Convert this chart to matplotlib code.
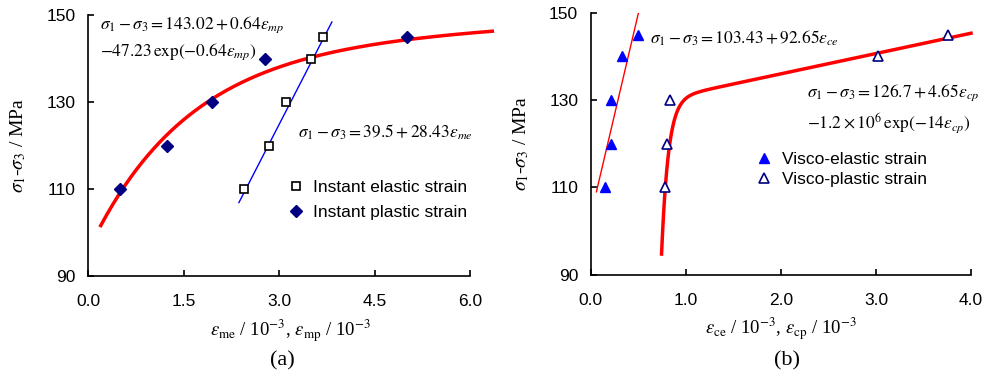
import numpy as np
import matplotlib
matplotlib.use('Agg')
import matplotlib.pyplot as plt

plt.rcParams['font.family'] = 'Liberation Sans'
plt.rcParams['mathtext.fontset'] = 'stix'

# (a) instant strains
me_x = [2.45, 2.84, 3.11, 3.51, 3.69]
me_y = [110, 120, 130, 140, 145]
mp_x = [0.50, 1.24, 1.94, 2.78, 5.01]
mp_y = [110, 120, 130, 140, 145]

# (b) creep strains
ce_x = [0.15, 0.21, 0.21, 0.33, 0.50]
ce_y = [110, 120, 130, 140, 145]
cp_x = [0.78, 0.80, 0.83, 3.02, 3.76]
cp_y = [110, 120, 130, 140, 145]

yticks = [90, 110, 130, 150]
xticks_a = [0.0, 1.5, 3.0, 4.5, 6.0]
xticks_b = [0.0, 1.0, 2.0, 3.0, 4.0]

serif = 'Liberation Serif'


def fit_me(e):
    return 39.5 + 28.43 * e


def fit_mp(e):
    return 143.02 + 0.64 * e - 47.23 * np.exp(-0.64 * e)


def fit_ce(e):
    return 103.43 + 92.65 * e


def fit_cp(e):
    return 126.7 + 4.65 * e - 1.2e6 * np.exp(-14 * e)


def style_axes(ax, xt, xmax_spine):
    ax.spines['top'].set_visible(False)
    ax.spines['right'].set_visible(False)
    ax.spines['bottom'].set_bounds(0, xmax_spine)
    ax.spines['left'].set_linewidth(1.2)
    ax.spines['bottom'].set_linewidth(1.2)
    ax.set_ylim(90, 150)
    ax.set_yticks(yticks)
    ax.set_xticks(xt)
    ax.set_xticklabels(['%.1f' % v for v in xt])
    ax.tick_params(direction='in', length=4, width=1.2, labelsize=12.5)
    ax.tick_params(axis='x', pad=13)
    ax.tick_params(axis='y', pad=9)
    ax.set_ylabel(r'$\sigma_1$-$\sigma_3$ / MPa', fontfamily=serif, fontsize=14, labelpad=13)


fig = plt.figure(figsize=(9.99, 3.77), dpi=100)

# ---- (a)
ax1 = fig.add_axes([0.0881, 0.2679, 0.4047, 0.6923])
style_axes(ax1, xticks_a, 6.0)
ax1.set_xlim(0, 6.35)

e = np.linspace(2.37, 3.83, 50)
ax1.plot(e, fit_me(e), color='blue', lw=1.0)
e = np.linspace(0.2, 6.35, 200)
ax1.plot(e, fit_mp(e), color='red', lw=2.5, clip_on=False)
ax1.plot(me_x, me_y, 's', ms=6, mfc='white', mec='black', mew=1.2, ls='none',
         label='Instant elastic strain')
ax1.plot(mp_x, mp_y, 'D', ms=6.5, color='#000080', ls='none',
         label='Instant plastic strain')

ax1.text(0.19, 147.7, r'$\sigma_1-\sigma_3=143.02+0.64\varepsilon_{mp}$', fontsize=12.5, va='center')
ax1.text(0.19, 141.5, r'$-47.23\,\mathrm{exp}(-0.64\varepsilon_{mp})$', fontsize=12.5, va='center')
ax1.text(3.30, 123.1, r'$\sigma_1-\sigma_3=39.5+28.43\varepsilon_{me}$', fontsize=12.5, va='center')

ax1.legend(loc='upper left', bbox_to_anchor=(0.492, 0.37), frameon=False, fontsize=12.5,
           handlelength=1, handletextpad=0.5, borderpad=0, borderaxespad=0,
           labelspacing=0.6)
ax1.set_xlabel(r'$\varepsilon_{\rm me}$ / 10$^{-3}$, $\varepsilon_{\rm mp}$ / 10$^{-3}$',
               fontfamily=serif, fontsize=13.5, labelpad=6)
fig.text(0.283, 0.042, '(a)', fontfamily=serif, fontsize=16, ha='center', va='center')

# ---- (b)
ax2 = fig.add_axes([0.5913, 0.2714, 0.3807, 0.6949])
style_axes(ax2, xticks_b, 4.0)
ax2.set_xlim(0, 4.0)

e = np.linspace(0.06, 0.51, 50)
ax2.plot(e, fit_ce(e), color='red', lw=1.0)
e = np.linspace(0.745, 4.0, 300)
ax2.plot(e, fit_cp(e), color='red', lw=2.5, clip_on=False)
ax2.plot(ce_x, ce_y, '^', ms=7.5, color='blue', ls='none', label='Visco-elastic strain')
ax2.plot(cp_x, cp_y, '^', ms=7.5, mfc='white', mec='#000080', mew=1.2, ls='none',
         label='Visco-plastic strain')

ax2.text(0.62, 144.2, r'$\sigma_1-\sigma_3=103.43+92.65\varepsilon_{ce}$', fontsize=12.5, va='center')
ax2.text(2.27, 131.6, r'$\sigma_1-\sigma_3=126.7+4.65\varepsilon_{cp}$', fontsize=12.5, va='center')
ax2.text(2.27, 124.7, r'$-1.2\times10^6\,\mathrm{exp}(-14\varepsilon_{cp})$', fontsize=12.5, va='center')

ax2.legend(loc='upper left', bbox_to_anchor=(0.434, 0.47), frameon=False, fontsize=12.5,
           handlelength=1, handletextpad=0.5, borderpad=0, borderaxespad=0,
           labelspacing=0.3)
ax2.set_xlabel(r'$\varepsilon_{\rm ce}$ / 10$^{-3}$, $\varepsilon_{\rm cp}$ / 10$^{-3}$',
               fontfamily=serif, fontsize=13.5, labelpad=6)
fig.text(0.788, 0.042, '(b)', fontfamily=serif, fontsize=16, ha='center', va='center')

fig.savefig('out.png', dpi=100)
